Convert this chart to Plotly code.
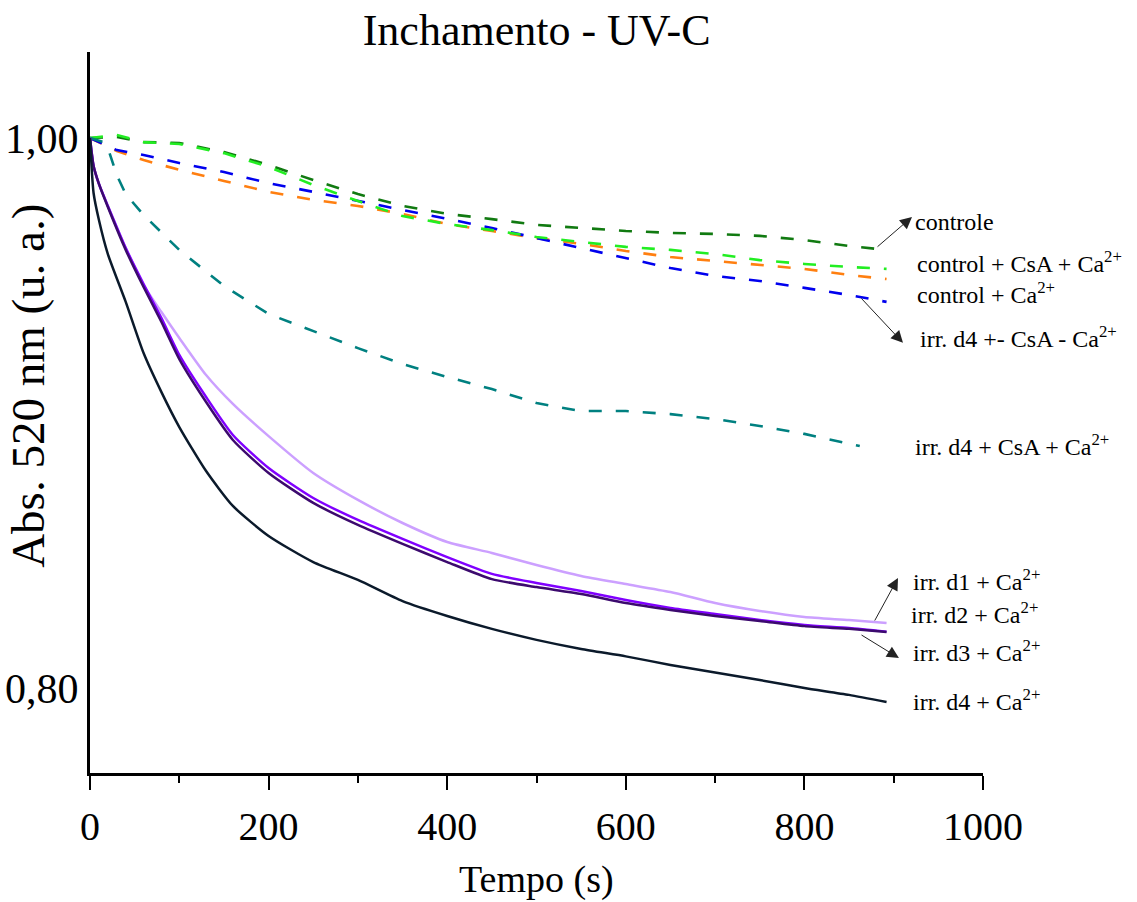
import plotly.graph_objects as go

# ---------------- data ----------------
t_solid = [0, 4, 10, 20, 40, 60, 80, 100, 130, 160, 200, 250, 300, 350, 400, 450,
           500, 550, 600, 650, 700, 750, 800, 850, 892]
irr_d4_ca = [1.0, 0.980, 0.9702, 0.9578, 0.9404, 0.9218, 0.9076, 0.8949, 0.8789, 0.8662,
             0.8553, 0.8458, 0.8393, 0.8316, 0.8262, 0.8215, 0.8175, 0.8142, 0.8115,
             0.8084, 0.8056, 0.8029, 0.8000, 0.7975, 0.7949]
irr_d3_ca = [1.0, 0.9898, 0.9833, 0.9749, 0.9593, 0.9458, 0.9331, 0.9196, 0.9040, 0.8902,
             0.8782, 0.8673, 0.8593, 0.8524, 0.8458, 0.8396, 0.8367, 0.8342, 0.8309,
             0.8284, 0.8262, 0.8244, 0.8225, 0.8215, 0.8204]
irr_d2_ca = [1.0, 0.9898, 0.9833, 0.9753, 0.9600, 0.9469, 0.9345, 0.9211, 0.9058, 0.8920,
             0.8800, 0.8691, 0.8611, 0.8542, 0.8476, 0.8415, 0.8382, 0.8353, 0.8320,
             0.8291, 0.8269, 0.8247, 0.8229, 0.8218, 0.8205]
irr_d1_ca = [1.0, 0.9898, 0.9833, 0.9753, 0.9600, 0.9465, 0.9367, 0.9273, 0.9138, 0.9033,
             0.8916, 0.8782, 0.8684, 0.8600, 0.8531, 0.8491, 0.8447, 0.8407, 0.8378,
             0.8349, 0.8309, 0.8280, 0.8258, 0.8247, 0.8236]

t_dash = [0, 30, 60, 100, 150, 200, 250, 300, 350, 400, 450, 500, 550, 600, 650, 700,
          750, 800, 850, 892]
controle = [1.0, 1.0004, 0.9985, 0.9982, 0.9949, 0.9902, 0.9847, 0.9796, 0.9753, 0.9724,
            0.9705, 0.9684, 0.9673, 0.9662, 0.9655, 0.9651, 0.9644, 0.9629, 0.9607, 0.9593]
control_csa_ca = [1.0, 1.0011, 0.9985, 0.9978, 0.9945, 0.9895, 0.9829, 0.9771, 0.9716,
                  0.9687, 0.9665, 0.9640, 0.9622, 0.9604, 0.9593, 0.9578, 0.9556, 0.9542,
                  0.9531, 0.9524]
control_ca = [1.0, 0.9953, 0.9920, 0.9884, 0.9844, 0.9804, 0.9775, 0.9753, 0.9724, 0.9687,
              0.9662, 0.9636, 0.9615, 0.9589, 0.9567, 0.9553, 0.9538, 0.9524, 0.9502, 0.9487]
irr_d4_pm = [1.0, 0.9956, 0.9938, 0.9909, 0.9876, 0.9836, 0.9804, 0.9771, 0.9738, 0.9705,
             0.9673, 0.9636, 0.9600, 0.9564, 0.9527, 0.9498, 0.9480, 0.9455, 0.9429, 0.9404]

t_teal = [0, 15, 20, 30, 40, 60, 100, 150, 200, 250, 300, 350, 400, 450, 500, 550, 600,
          650, 700, 750, 800, 862]
irr_d4_csa_ca = [1.0, 0.9985, 0.9964, 0.9865, 0.9796, 0.9720, 0.9593, 0.9462, 0.9360,
                 0.9298, 0.9236, 0.9178, 0.9131, 0.9087, 0.9036, 0.9007, 0.9007, 0.8996,
                 0.8978, 0.8953, 0.8924, 0.8880]

y_tickvals = [0.80, 1.00]
y_ticktext = ["0,80", "1,00"]
x_tickvals = [0, 200, 400, 600, 800, 1000]

FONT = "Liberation Serif, Times New Roman, serif"

fig = go.Figure()

DASH = "13px,14px"
dashed = [
    (t_dash, control_ca, "#ff7f10", "control + Ca2+"),
    (t_dash, irr_d4_pm, "#0000ee", "irr. d4 +- CsA - Ca2+"),
    (t_dash, controle, "#117a11", "controle"),
    (t_dash, control_csa_ca, "#22ee22", "control + CsA + Ca2+"),
    (t_teal, irr_d4_csa_ca, "#008080", "irr. d4 + CsA + Ca2+"),
]
for x, y, c, n in dashed:
    fig.add_trace(go.Scatter(x=x, y=y, mode="lines", name=n,
                             line=dict(color=c, width=2.6, dash=DASH)))

solid = [
    (irr_d1_ca, "#cca0ff", "irr. d1 + Ca2+"),
    (irr_d2_ca, "#8000ff", "irr. d2 + Ca2+"),
    (irr_d3_ca, "#3c0a6e", "irr. d3 + Ca2+"),
    (irr_d4_ca, "#0b1a2b", "irr. d4 + Ca2+"),
]
for y, c, n in solid:
    fig.add_trace(go.Scatter(x=t_solid, y=y, mode="lines", name=n,
                             line=dict(color=c, width=2.5, shape="spline", smoothing=0.6)))

# ---------------- labels ----------------
def lab(x, y, text):
    fig.add_annotation(x=x, y=y, xref="x", yref="y", text=text, showarrow=False,
                       xanchor="left", yanchor="middle",
                       font=dict(family=FONT, size=24, color="black"))

lab(921.6, 0.9695, "controle")
lab(923.9, 0.9550, "control + CsA + Ca<sup>2+</sup>")
lab(923.9, 0.9436, "control + Ca<sup>2+</sup>")
lab(927.2, 0.9276, "irr. d4 +- CsA - Ca<sup>2+</sup>")
lab(921.6, 0.8884, "irr. d4 + CsA + Ca<sup>2+</sup>")
lab(919.4, 0.8393, "irr. d1 + Ca<sup>2+</sup>")
lab(917.1, 0.8273, "irr. d2 + Ca<sup>2+</sup>")
lab(919.4, 0.8135, "irr. d3 + Ca<sup>2+</sup>")
lab(919.4, 0.7956, "irr. d4 + Ca<sup>2+</sup>")

def arrow(x0, y0, x1, y1):
    fig.add_annotation(x=x1, y=y1, ax=x0, ay=y0, xref="x", yref="y", axref="x", ayref="y",
                       text="", showarrow=True, arrowhead=2, arrowsize=2.4, arrowwidth=1,
                       arrowcolor="#222222", standoff=0, startstandoff=0)

arrow(880.2, 0.9600, 920.5, 0.9713)
arrow(862.3, 0.9422, 910.4, 0.9255)
arrow(877.9, 0.8240, 904.8, 0.8400)
arrow(862.3, 0.8196, 905.9, 0.8109)

# axis titles as annotations
fig.add_annotation(x=0.5, y=-0.148, xref="paper", yref="paper", text="Tempo (s)",
                   showarrow=False, xanchor="center", yanchor="middle",
                   font=dict(family=FONT, size=38, color="black"))
fig.add_annotation(x=-0.0694, y=0.537, xref="paper", yref="paper",
                   text="Abs. 520 nm (u. a.)", textangle=-90, showarrow=False,
                   xanchor="center", yanchor="middle",
                   font=dict(family=FONT, size=47, color="black"))

fig.update_layout(
    width=1137, height=902,
    margin=dict(l=90, r=154, t=52, b=129, autoexpand=False),
    paper_bgcolor="white", plot_bgcolor="white",
    showlegend=False,
    title=dict(text="Inchamento - UV-C", x=0.472, xanchor="center",
               y=1 - 30 / 902, yref="container", yanchor="middle",
               font=dict(family=FONT, size=44, color="black")),
    xaxis=dict(range=[0, 1000], tickvals=x_tickvals, showgrid=False, zeroline=False,
               automargin=False,
               showline=True, linecolor="black", linewidth=3,
               ticks="outside", ticklen=14, tickwidth=2, tickcolor="black",
               minor=dict(dtick=100, ticks="outside", ticklen=7, tickwidth=2,
                          tickcolor="black", showgrid=False),
               tickfont=dict(family=FONT, size=40, color="black"),
               ticklabelstandoff=2),
    yaxis=dict(range=[0.76909, 1.03127], tickvals=y_tickvals, ticktext=y_ticktext,
               automargin=False,
               showgrid=False, zeroline=False, showline=True, linecolor="black",
               linewidth=3, ticks="",
               tickfont=dict(family=FONT, size=42, color="black"),
               ticklabelstandoff=0),
)

fig.write_html("out.html")
